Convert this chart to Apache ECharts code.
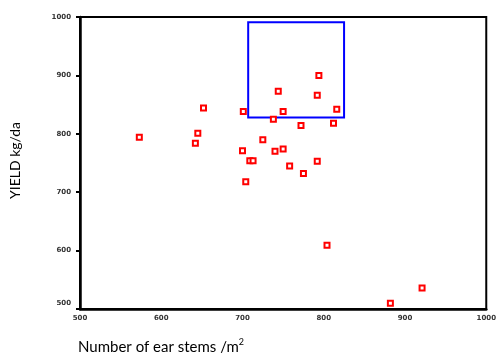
<!DOCTYPE html>
<html>
<head>
<meta charset="utf-8">
<script src="https://cdn.jsdelivr.net/npm/echarts@6/dist/echarts.min.js"></script>
<style>
html,body{margin:0;padding:0;background:#fff;}
#chart{width:499px;height:364px;}
</style>
</head>
<body>
<div id="chart"></div>
<script>
// Data
var earStems = [573, 645, 642, 652, 701, 700, 704, 709, 713, 725, 738, 740, 744, 750, 750, 758, 772, 775, 792, 792, 794, 804, 812, 816, 882, 921];
var yieldKg  = [794, 801, 784, 844, 838, 771, 718, 754, 754, 790, 825, 770, 873, 774, 838, 745, 814, 732, 753, 866, 900, 609, 818, 842, 510, 536];
var xTicks = [500, 600, 700, 800, 900, 1000];
var yTicks = [500, 600, 700, 800, 900, 1000];
var boxX = [707, 825];
var boxY = [828, 991];

var points = earStems.map(function (x, i) { return [x, yieldKg[i]]; });

var chart = echarts.init(document.getElementById('chart'), null, {renderer: 'canvas'});
chart.setOption({
  animation: false,
  backgroundColor: '#fff',
  grid: {left: 80, top: 17, right: 10, bottom: 55, show: true, borderColor: '#000', borderWidth: 2, backgroundColor: 'transparent'},
  xAxis: {
    type: 'value', min: xTicks[0], max: xTicks[xTicks.length - 1], interval: 100,
    axisLine: {show: true, lineStyle: {color: '#000', width: 2.5}},
    axisTick: {show: false},
    splitLine: {show: false},
    axisLabel: {fontSize: 7, color: '#333', fontFamily: 'DejaVu Sans', fontWeight: 'bold', margin: 6,
      formatter: function (v) { return String(v); }}
  },
  yAxis: {
    type: 'value', min: yTicks[0], max: yTicks[yTicks.length - 1], interval: 100,
    axisLine: {show: true, lineStyle: {color: '#000', width: 2.5}},
    axisTick: {show: true, length: 4, lineStyle: {color: '#000', width: 2}},
    splitLine: {show: false},
    axisLabel: {fontSize: 7, color: '#333', fontFamily: 'DejaVu Sans', fontWeight: 'bold', margin: 9,
      formatter: function (v) { return v === yTicks[0] ? '{lo|' + v + '}' : String(v); },
      rich: {lo: {fontSize: 7, color: '#333', fontFamily: 'DejaVu Sans', fontWeight: 'bold', padding: [0, 0, 12, 0]}}}
  },
  series: [{
    type: 'scatter',
    data: points,
    symbol: 'rect',
    symbolSize: 5,
    itemStyle: {color: '#fff', borderColor: '#ff0000', borderWidth: 2, opacity: 1},
    markArea: {
      silent: true,
      itemStyle: {color: 'rgba(0,0,0,0)', borderColor: '#0000ff', borderWidth: 2},
      data: [[{coord: [boxX[0], boxY[1]]}, {coord: [boxX[1], boxY[0]]}]]
    }
  }],
  graphic: [
    {type: 'text', x: 8, y: 199, rotation: Math.PI / 2, style: {text: 'YIELD kg/da', fontSize: 14, fontFamily: 'Lato', fill: '#000'}},
    {type: 'text', x: 78, y: 338, style: {
      text: '{n|Number of ear stems /m}{s|2}',
      rich: {
        n: {fontSize: 15, fontFamily: 'Lato', fill: '#000', color: '#000', verticalAlign: 'bottom'},
        s: {fontSize: 9, fontFamily: 'Lato', fill: '#000', color: '#000', verticalAlign: 'top', padding: [0, 0, 8, 0]}
      }
    }}
  ]
});
</script>
</body>
</html>
